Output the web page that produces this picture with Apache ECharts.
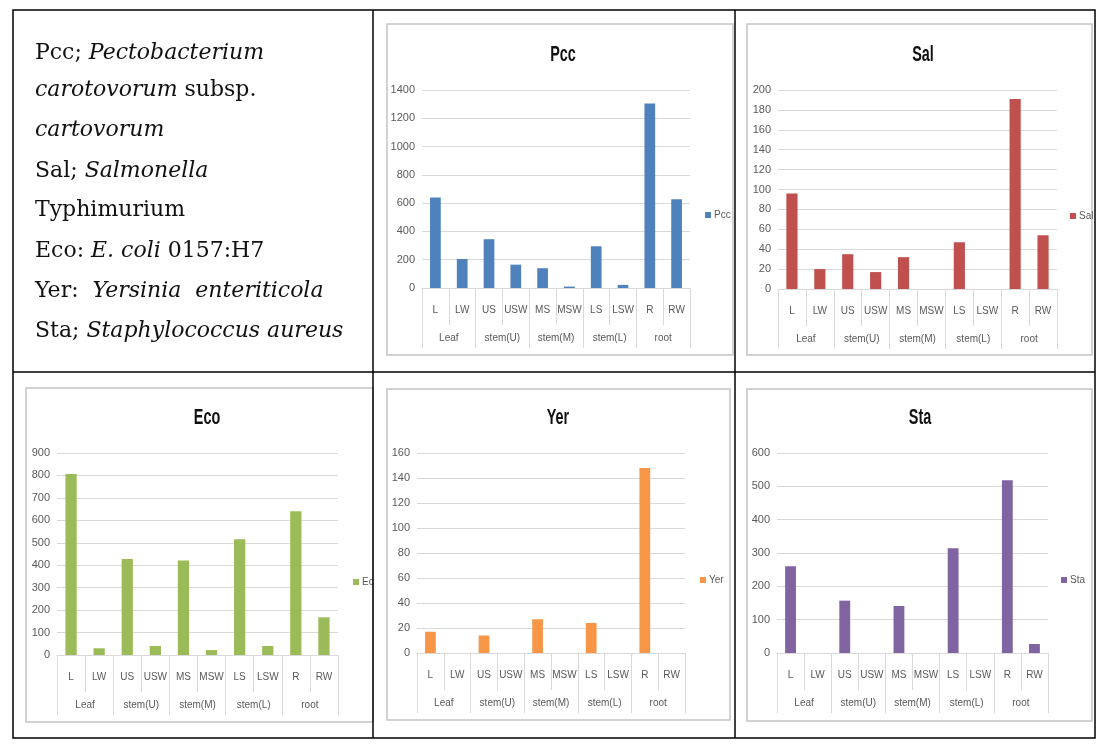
<!DOCTYPE html>
<html>
<head>
<meta charset="utf-8">
<script src="https://cdn.jsdelivr.net/npm/echarts@6/dist/echarts.min.js"></script>
<style>
html,body{margin:0;padding:0;background:#fff;}
#c{width:1115px;height:744px;}
</style>
</head>
<body>
<div id="c"></div>
<script>
// ---- data ----
const categories = ['L','LW','US','USW','MS','MSW','LS','LSW','R','RW'];
const groups = ['Leaf','stem(U)','stem(M)','stem(L)','root'];
const pccValues = [640,205,345,165,140,10,295,22,1305,628];
const salValues = [96,20,35,17,32,0,47,0,191,54];
const ecoValues = [806,30,428,40,421,22,516,40,640,168];
const yerValues = [17,0,14,0,27,0,24,0,148,0];
const staValues = [260,0,157,0,141,0,314,0,518,27];
const seriesNames = ['Pcc','Sal','Eco','Yer','Sta'];
const axisMax = [1400,200,900,160,600];
const axisStep = [200,20,100,20,100];
const legendLines = [
  'Pcc; {i|Pectobacterium}',
  '{i|carotovorum} subsp.',
  '{i|cartovorum}',
  'Sal; {i|Salmonella}',
  'Typhimurium',
  'Eco: {i|E. coli} 0157:H7',
  'Yer:  {i|Yersinia  enteriticola}',
  'Sta; {i|Staphylococcus aureus}'
];

// ---- layout / style ----
const allValues = [pccValues, salValues, ecoValues, yerValues, staValues];
const colors = ['#4F81BD','#C0504D','#9BBB59','#F79646','#8064A2'];
const layout = [
  {grid:{left:422,top:90,width:268,height:198}, title:[563,55], legend:[705,210], frame:[387,24,346,331]},
  {grid:{left:778,top:90,width:279,height:199}, title:[923,55], legend:[1070,211], frame:[747,24,345,331]},
  {grid:{left:57,top:453,width:281,height:202}, title:[207,418], legend:[353,577], frame:[26,388,347,334]},
  {grid:{left:417,top:453,width:268,height:200}, title:[558,418], legend:[700,575], frame:[387,389,343,331]},
  {grid:{left:777,top:453,width:271,height:200}, title:[920,418], legend:[1061,575], frame:[747,389,345,332]}
];

const labelColor = '#595959';
const gridColor = '#d9d9d9';
const sans = '"Liberation Sans",sans-serif';

const grids = [], xAxes = [], yAxes = [], series = [], legends = [], graphics = [];

layout.forEach((L, k) => {
  grids.push(Object.assign({containLabel:false}, L.grid));
  xAxes.push({
    type:'category', gridIndex:k, data:categories,
    axisLine:{show:true, lineStyle:{color:gridColor, width:1}},
    axisTick:{show:true, interval:0, length:37, lineStyle:{color:gridColor}},
    axisLabel:{interval:0, margin:17, color:labelColor, fontSize:10, fontFamily:sans}
  });
  xAxes.push({
    type:'category', gridIndex:k, data:groups, position:'bottom', offset:37,
    axisLine:{show:false},
    axisTick:{show:true, interval:0, length:23, lineStyle:{color:gridColor}},
    axisLabel:{interval:0, margin:8, color:labelColor, fontSize:10, fontFamily:sans}
  });
  yAxes.push({
    type:'value', gridIndex:k, min:0, max:axisMax[k], interval:axisStep[k],
    axisLine:{show:false}, axisTick:{show:false},
    axisLabel:{margin:7, color:labelColor, fontSize:11, fontFamily:sans, formatter:v => String(v)},
    splitLine:{show:true, lineStyle:{color:gridColor, width:1}}
  });
  series.push({
    type:'bar', name:seriesNames[k], xAxisIndex:2*k, yAxisIndex:k,
    data:allValues[k], barWidth:'40%', itemStyle:{color:colors[k]}
  });
  legends.push({
    data:[seriesNames[k]], left:L.legend[0], top:L.legend[1], icon:'rect',
    itemWidth:6, itemHeight:6, padding:0,
    textStyle:{color:labelColor, fontSize:10, fontFamily:sans, padding:[0,0,0,-2]}
  });
  // chart frame
  graphics.push({type:'rect', z:1, shape:{x:L.frame[0], y:L.frame[1], width:L.frame[2], height:L.frame[3]},
    style:{fill:null, stroke:'#c4c4c4', lineWidth:1.5}});
  // title (tall, condensed look)
  graphics.push({type:'text', z:5, x:L.title[0], y:L.title[1], scaleX:0.8, scaleY:1.25,
    style:{text:seriesNames[k], x:0, y:0, align:'center', verticalAlign:'middle', fill:'#111',
    font:'bold 18px ' + sans}});
});

// cover part of Eco legend text clipped by cell
graphics.push({type:'rect', z:100, shape:{x:374, y:568, width:11, height:22}, style:{fill:'#fff'}});

// text panel
const lineY = [53, 90, 130, 171, 210, 251, 291, 331];
legendLines.forEach((t, i) => {
  graphics.push({type:'text', z:5, style:{
    text:t, x:35, y:lineY[i], verticalAlign:'middle', fill:'#111',
    font:'22px "DejaVu Serif",serif',
    rich:{i:{font:'italic 22px "DejaVu Serif",serif', fill:'#111'}}
  }});
});

// table lines
const tbl = {stroke:'#000', lineWidth:1.5};
graphics.push({type:'rect', z:101, shape:{x:13, y:10, width:1082, height:728}, style:Object.assign({fill:null}, tbl)});
graphics.push({type:'line', z:101, shape:{x1:373, y1:10, x2:373, y2:738}, style:tbl});
graphics.push({type:'line', z:101, shape:{x1:735, y1:10, x2:735, y2:738}, style:tbl});
graphics.push({type:'line', z:101, shape:{x1:13, y1:372, x2:1095, y2:372}, style:tbl});

const chart = echarts.init(document.getElementById('c'), null, {renderer:'canvas'});
chart.setOption({
  animation:false,
  backgroundColor:'#fff',
  grid:grids, xAxis:xAxes, yAxis:yAxes, series:series, legend:legends,
  graphic:{elements:graphics}
});
</script>
</body>
</html>
